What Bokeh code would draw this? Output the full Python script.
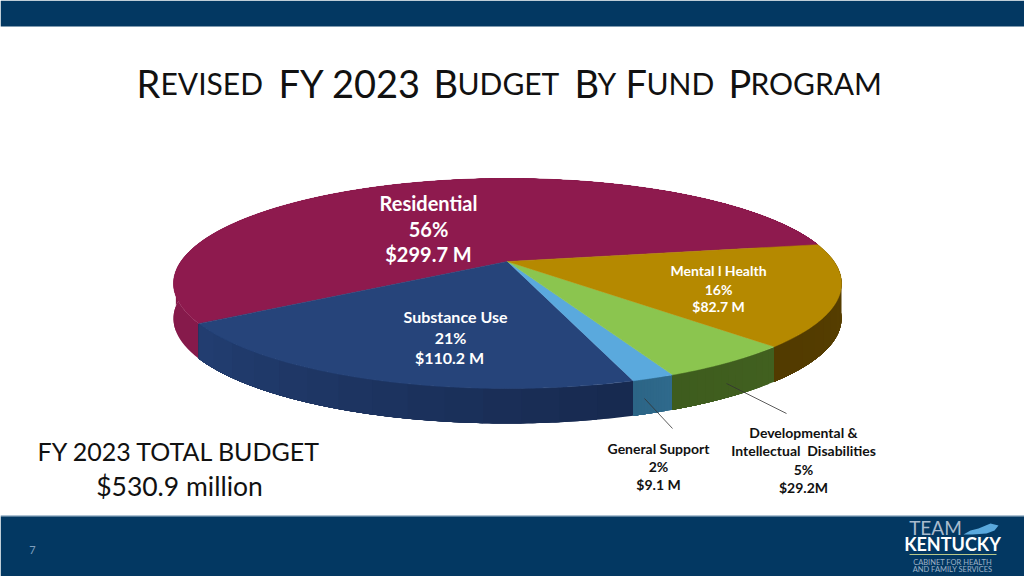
import numpy as np
from bokeh.plotting import figure
from bokeh.embed import file_html
from bokeh.resources import INLINE
from bokeh.core.properties import value

categories = ["Mental l Health", "Developmental & Intellectual\u00a0\u00a0Disabilities", "General Support", "Substance Use", "Residential"]
amounts = [82.7, 29.2, 9.1, 110.2, 299.7]
percents = ["16%", "5%", "2%", "21%", "56%"]
money = ["$82.7 M", "$29.2M", "$9.1 M", "$110.2 M", "$299.7 M"]
top_colors = ["#B58900", "#8BC54F", "#5AA9DD", "#26447A", "#8E1A4E"]
side_from = ["#5A4100", "#41601F", "#2F6A8C", "#172A50", "#861A4B"]
side_to = ["#523B00", "#3E5C1E", "#2C6586", "#223D70", "#861A4B"]

NAVY = "#033862"
FONT = value("Lato")

p = figure(width=1024, height=576, x_range=(0, 1024), y_range=(576, 0),
           output_backend="svg", toolbar_location=None, min_border=0,
           outline_line_color=None, background_fill_color="white",
           border_fill_color="white")
p.axis.visible = False
p.grid.visible = False
p.styles = {"position": "absolute", "left": "0", "top": "0"}

# bands
p.quad(left=0, right=1024, top=0, bottom=26, fill_color=NAVY, line_color=None)
p.quad(left=0, right=1024, top=515, bottom=516, fill_color="#5E86A8", line_color=None)
p.quad(left=0, right=1024, top=516, bottom=576, fill_color=NAVY, line_color=None)

# perspective disc projection
APEX_X, APEX_Y = 507.0, 261.0
K, A, C = -0.2095, 100.4, 326.6
DEPTH = 35.0
START = -10.0


def project(deg, depth=0.0):
    t = np.radians(deg)
    u, v = np.cos(t), np.sin(t)
    den = 1 + K * v
    return APEX_X + C * u / den, APEX_Y + A * v / den + depth


def rgb(h):
    return np.array([int(h[i:i + 2], 16) for i in (1, 3, 5)])


total = sum(amounts)
sweep = [a / total * 360 for a in amounts]
ends = START + np.cumsum(sweep)
starts = ends - np.array(sweep)

# residential side first, so the front slices sit on top; each side shaded in
# steps painted over one another, so that no seams show between them
for a0, a1, c0, c1 in reversed(list(zip(starts, ends, side_from, side_to))):
    steps = 14
    edges = np.linspace(a0, a1, steps + 1)
    for i in range(steps):
        mix = i / (steps - 1)
        c = (1 - mix) * rgb(c0) + mix * rgb(c1)
        col = "#%02x%02x%02x" % tuple(int(round(x)) for x in c)
        d = np.linspace(edges[i], a1, 120)
        xt, yt = project(d)
        xb, yb = project(d, DEPTH)
        p.patch(np.r_[xt, xb[::-1]], np.r_[yt, yb[::-1]], fill_color=col, line_color=None)

for a0, a1, col in reversed(list(zip(starts, ends, top_colors))):
    d = np.linspace(a0, a1, 200)
    xt, yt = project(d)
    p.patch(np.r_[APEX_X, xt], np.r_[APEX_Y, yt], fill_color=col, line_color=col, line_width=0.5)

# leader lines
p.line([644, 672], [398, 428], line_color="#333333", line_width=0.8)
p.line([726, 786], [383, 413], line_color="#333333", line_width=0.8)


def label(x, y, s, size, color="white", style="bold", align="center"):
    p.text([x], [y], text=[s], text_font=FONT, text_font_size=f"{size}px",
           text_font_style=style, text_color=color, text_align=align, text_baseline="middle")


# slice labels
label(428, 202, categories[4], 20)
label(428, 228, percents[4], 20)
label(428, 253, money[4], 20)
label(455, 316, categories[3], 16)
label(450, 337, percents[3], 16)
label(449, 357, money[3], 16)
label(718, 270, categories[0], 14)
label(718, 289, percents[0], 14)
label(718, 306, money[0], 14)
dev = categories[1].split(" Intellectual")
label(803, 432, dev[0], 14, "#111111")
label(803, 450, "Intellectual" + dev[1], 14, "#111111")
label(803, 469, percents[1], 14, "#111111")
label(803, 487, money[1], 14, "#111111")
label(658, 448, categories[2], 14, "#111111")
label(658, 466, percents[2], 14, "#111111")
label(658, 484, money[2], 14, "#111111")

# title as small-caps runs
runs = [(136, "R", 38), (160, "EVISED", 30), (278, "FY 2023", 38), (433, "B", 38),
        (457, "UDGET", 30), (574, "B", 38), (597, "Y", 30), (625, "F", 38),
        (646, "UND", 30), (728, "P", 38), (750, "ROGRAM", 30)]
for x, s, size in runs:
    p.text([x], [82], text=[s], text_font=FONT, text_font_size=f"{size}px",
           text_color="#111111", text_align="left", text_baseline="alphabetic")

label(179, 450.5, "FY 2023 TOTAL BUDGET", 25, "#111111", "normal")
label(179, 485, "$530.9 million", 26.5, "#111111", "normal")
label(32, 549, "7", 11, "#7F9FBD", "normal")

# logo
label(935, 527, "TEAM", 19, "#A9BBCE", "normal")
label(952, 543, "KENTUCKY", 18, "white", "bold")
p.line([909, 996], [554, 554], line_color="#B9C98A", line_width=1)
label(952, 562, "CABINET FOR HEALTH", 7.5, "#9FB3C8", "normal")
label(952, 569, "AND FAMILY SERVICES", 7.5, "#9FB3C8", "normal")
p.patch([963, 970, 978, 990, 998, 994, 986, 972, 963], [534, 530, 528, 523, 525, 530, 533, 534, 534],
        fill_color="#5AA9DD", line_color=None)

open("out.html", "w").write(file_html(p, INLINE))
